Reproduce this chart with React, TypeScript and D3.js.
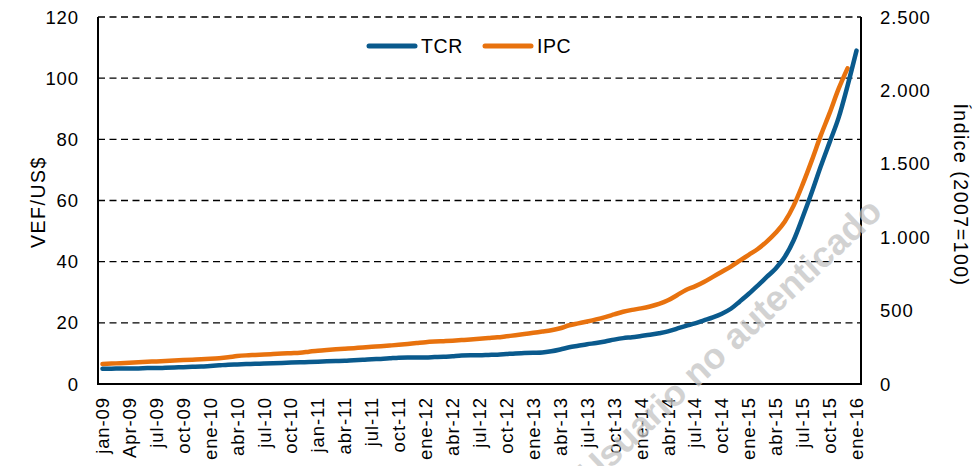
import React, { useEffect } from 'react';
import * as d3 from 'd3';

// monthly observations, jan-09 .. ene-16
const months = d3.timeMonth.range(new Date(2009, 0, 1), new Date(2016, 1, 1));

// TCR, VEF/US$ (left axis)
const tcr = [
  5.0, 5.0, 5.1, 5.1, 5.1, 5.2, 5.2, 5.3, 5.4, 5.5, 5.6, 5.7,
  5.9, 6.1, 6.3, 6.4, 6.5, 6.6, 6.7, 6.8, 6.9, 7.0, 7.1, 7.2,
  7.3, 7.4, 7.5, 7.6, 7.8, 7.9, 8.1, 8.2, 8.4, 8.6, 8.7, 8.7,
  8.7, 8.8, 8.9, 9.1, 9.3, 9.4, 9.4, 9.5, 9.6, 9.8, 10.0, 10.1,
  10.2, 10.3, 10.7, 11.3, 12.0, 12.5, 13.0, 13.4, 13.9, 14.5, 15.0, 15.3,
  15.7, 16.1, 16.6, 17.2, 18.1, 19.0, 19.8, 20.8, 21.8, 23.0, 24.6, 27.0,
  29.5, 32.2, 35.0, 37.8, 41.5, 47.0, 54.5, 62.5, 71.0, 79.0, 87.0, 97.5,
  109.0,
];

// IPC, índice 2007=100 (right axis), ends dic-15
const ipc = [
  136, 139, 142, 145, 148, 151, 154, 157, 160, 163, 166, 169,
  172, 176, 182, 190, 195, 198, 201, 204, 207, 210, 213, 220,
  227, 232, 236, 240, 244, 249, 253, 257, 262, 267, 273, 279,
  285, 289, 292, 295, 299, 303, 308, 313, 318, 325, 332, 340,
  349, 357, 366, 380, 400, 413, 426, 440, 456, 474, 492, 505,
  515, 528, 545, 570, 605, 640, 665, 695, 730, 765, 800, 840,
  880, 920, 970, 1030, 1105, 1215, 1360, 1520, 1690, 1845, 2010, 2150,
];

const tickLabels = [
  'jan-09', 'Apr-09', 'jul-09', 'oct-09', 'ene-10', 'abr-10', 'jul-10', 'oct-10',
  'jan-11', 'abr-11', 'jul-11', 'oct-11', 'ene-12', 'abr-12', 'jul-12', 'oct-12',
  'ene-13', 'abr-13', 'jul-13', 'oct-13', 'ene-14', 'abr-14', 'jul-14', 'oct-14',
  'ene-15', 'abr-15', 'jul-15', 'oct-15', 'ene-16',
];

const leftTicks = [0, 20, 40, 60, 80, 100, 120];
const rightTicks = [0, 500, 1000, 1500, 2000, 2500];

const W = 977;
const H = 466;
const FONT = '"Liberation Sans", Arial, sans-serif';
const BLUE = '#0A5A8D';
const ORANGE = '#E8720E';

const fmtRight = d3.formatLocale({ decimal: ',', thousands: '.', grouping: [3], currency: ['', ''] }).format(',');

export default function App() {
  useEffect(() => {
    document.body.style.margin = '0';
  }, []);

  const left = 98, right = 861, top = 17, bottom = 384;
  const x = d3.scaleBand<number>().domain(d3.range(months.length)).range([left, right]).padding(0);
  const cx = (i: number) => (x(i) as number) + x.bandwidth() / 2;
  const yL = d3.scaleLinear().domain([0, 120]).range([bottom, top]);
  const yR = d3.scaleLinear().domain([0, 2500]).range([bottom, top]);

  const lineL = d3.line<number>().x((_, i) => cx(i)).y((d) => yL(d)).curve(d3.curveMonotoneX);
  const lineR = d3.line<number>().x((_, i) => cx(i)).y((d) => yR(d)).curve(d3.curveMonotoneX);

  const txt = { fontFamily: FONT, fontSize: 18.5, letterSpacing: 0.9, fill: '#000' } as const;
  const title = { fontFamily: FONT, fontSize: 19.5, letterSpacing: 1.5, fill: '#000' } as const;

  return (
    <svg width={W} height={H} style={{ display: 'block' }}>
      <rect width={W} height={H} fill="#fff" />

      {leftTicks.filter((t) => t > 0).map((t) => (
        <line key={t} x1={left} x2={right} y1={yL(t)} y2={yL(t)} stroke="#000" strokeWidth={1.3} strokeDasharray="7,4.5" />
      ))}

      <path d={lineR(ipc) || ''} fill="none" stroke={ORANGE} strokeWidth={4.5} strokeLinejoin="round" strokeLinecap="round" />
      <path d={lineL(tcr) || ''} fill="none" stroke={BLUE} strokeWidth={4.5} strokeLinejoin="round" strokeLinecap="round" />

      <line x1={left} x2={left} y1={top} y2={bottom} stroke="#000" strokeWidth={2} />
      <line x1={right} x2={right} y1={top} y2={bottom} stroke="#000" strokeWidth={2} />
      <line x1={left - 1} x2={right + 1} y1={bottom} y2={bottom} stroke="#000" strokeWidth={2} />

      {leftTicks.map((t) => (
        <text key={t} x={79} y={yL(t)} dy="0.36em" textAnchor="end" {...txt}>{t}</text>
      ))}
      {rightTicks.map((t) => (
        <text key={t} x={880} y={yR(t)} dy="0.36em" textAnchor="start" {...txt}>{fmtRight(t)}</text>
      ))}

      {tickLabels.map((lab, k) => (
        <text key={lab} transform={`translate(${cx(k * 3) + 6.5},${bottom + 13}) rotate(-90)`} textAnchor="end" {...txt}>{lab}</text>
      ))}

      <text transform={`translate(45,202) rotate(-90)`} textAnchor="middle" {...title}>VEF/US$</text>
      <text transform={`translate(954,195) rotate(90)`} textAnchor="middle" {...title}>Índice (2007=100)</text>

      <line x1={369} x2={415} y1={46} y2={46} stroke={BLUE} strokeWidth={5} strokeLinecap="round" />
      <text x={421} y={46} dy="0.36em" {...txt} fontSize={19.5} letterSpacing={0.6}>TCR</text>
      <line x1={485} x2={531} y1={46} y2={46} stroke={ORANGE} strokeWidth={5} strokeLinecap="round" />
      <text x={537} y={46} dy="0.36em" {...txt} fontSize={19.5} letterSpacing={0.6}>IPC</text>

      <text transform="translate(884,214) rotate(-43)" textAnchor="end" fontFamily={FONT} fontWeight="bold" fontSize={36} fill="#c4c4c4" opacity={0.75}>Usuario no autenticado</text>
    </svg>
  );
}
